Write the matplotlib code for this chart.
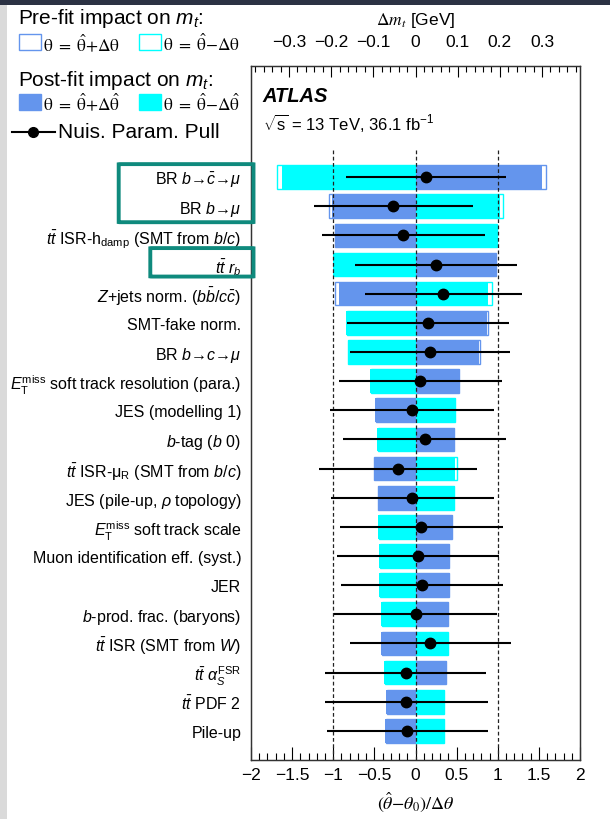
import matplotlib
matplotlib.use("Agg")
import matplotlib.pyplot as plt
from matplotlib.patches import Rectangle, FancyBboxPatch
from matplotlib.lines import Line2D
from matplotlib.ticker import MultipleLocator, FuncFormatter
from matplotlib.transforms import blended_transform_factory

plt.rcParams['font.family'] = ['Liberation Sans', 'DejaVu Sans']
plt.rcParams['mathtext.fontset'] = 'custom'
plt.rcParams['mathtext.rm'] = 'Liberation Sans'
plt.rcParams['mathtext.it'] = 'Liberation Sans:italic'
plt.rcParams['mathtext.bf'] = 'Liberation Sans:bold'
plt.rcParams['mathtext.sf'] = 'Liberation Sans'

# nuisance parameters, ranked by post-fit impact (top to bottom)
names = [
    r'BR $b$→$\bar{c}$→$\mu$',
    r'BR $b$→$\mu$',
    r'$t\bar{t}$ ISR-h$_{\mathrm{damp}}$ (SMT from $b/c$)',
    r'$t\bar{t}$ $r_{b}$',
    r'$Z$+jets norm. ($b\bar{b}/c\bar{c}$)',
    r'SMT-fake norm.',
    r'BR $b$→$c$→$\mu$',
    r'$E_{\mathrm{T}}^{\mathrm{miss}}$ soft track resolution (para.)',
    r'JES (modelling 1)',
    r'$b$-tag ($b$ 0)',
    r'$t\bar{t}$ ISR-$\mathrm{\mu}_{\mathrm{R}}$ (SMT from $b/c$)',
    r'JES (pile-up, $\rho$ topology)',
    r'$E_{\mathrm{T}}^{\mathrm{miss}}$ soft track scale',
    r'Muon identification eff. (syst.)',
    r'JER',
    r'$b$-prod. frac. (baryons)',
    r'$t\bar{t}$ ISR (SMT from $W$)',
    r'$t\bar{t}$ $\alpha_{S}^{\mathrm{FSR}}$',
    r'$t\bar{t}$ PDF 2',
    r'Pile-up',
]

# impact on m_t in GeV
post_up = [0.299, -0.199, -0.192, 0.191, -0.181, 0.170, 0.150, 0.106, -0.095, 0.094,
           -0.095, -0.090, 0.088, 0.082, 0.081, 0.080, -0.081, 0.075, -0.070, -0.073]
post_down = [-0.317, 0.201, 0.196, -0.195, 0.173, -0.164, -0.159, -0.108, 0.096, -0.092,
             0.093, 0.093, -0.089, -0.086, -0.087, -0.081, 0.078, -0.075, 0.070, 0.070]
pre_up = [0.310, -0.204, -0.190, 0.190, -0.191, 0.171, 0.153, 0.104, -0.093, 0.092,
          -0.099, -0.088, 0.086, 0.080, 0.079, 0.078, -0.079, 0.073, -0.068, -0.071]
pre_down = [-0.328, 0.208, 0.194, -0.193, 0.182, -0.162, -0.161, -0.106, 0.094, -0.090,
            0.098, 0.091, -0.087, -0.084, -0.085, -0.079, 0.076, -0.073, 0.068, 0.068]

# pulls (theta_hat - theta_0)/dtheta and their post-fit errors
pull = [0.13, -0.27, -0.15, 0.25, 0.34, 0.15, 0.18, 0.06, -0.04, 0.11,
        -0.21, -0.04, 0.07, 0.03, 0.08, 0.00, 0.18, -0.12, -0.11, -0.10]
pull_err = [0.97, 0.97, 0.99, 0.985, 0.955, 0.985, 0.975, 0.99, 0.995, 0.99,
            0.96, 0.99, 0.99, 0.99, 0.98, 0.995, 0.98, 0.975, 0.99, 0.98]

BLUE = '#6495ED'
CYAN = '#00FFFF'
TEAL = '#0f8a7d'

n = len(names)
ypos = [n - 1 - i for i in range(n)]

fig = plt.figure(figsize=(6.1, 8.2), dpi=100)
W, H = 610.0, 820.0

ax = fig.add_axes([251 / W, 1 - 760.7 / H, 329 / W, (760.7 - 66.5) / H])
ax_top = ax.twiny()
ax.set_zorder(ax_top.get_zorder() + 1)
ax.patch.set_visible(False)

ax.set_ylim(-0.99, n - 1 + 3.83)
ax.set_xlim(-2, 2)
ax_top.set_xlim(-0.39, 0.39)

bar_h = 0.81
# pre-fit impact: open boxes
ax_top.barh(ypos, pre_up, height=bar_h, left=0, facecolor='white', edgecolor=BLUE, linewidth=1.0)
ax_top.barh(ypos, pre_down, height=bar_h, left=0, facecolor='white', edgecolor=CYAN, linewidth=1.0)
# post-fit impact: filled boxes
ax_top.barh(ypos, post_up, height=bar_h, left=0, color=BLUE, linewidth=0)
ax_top.barh(ypos, post_down, height=bar_h, left=0, color=CYAN, linewidth=0)

ymin = ax.get_ylim()[0]
ax.vlines([-1, 0, 1], ymin, n, colors='#222222', linestyles=(0, (3, 2)), linewidth=0.9, zorder=2)
ax.errorbar(pull, ypos, xerr=pull_err, fmt='o', color='black', ms=7.5,
            elinewidth=1.5, capsize=0, zorder=3)

ax.set_yticks(ypos)
ax.set_yticklabels(names, fontsize=11.5)
ax.tick_params(axis='y', length=0, pad=7)

fmt = FuncFormatter(lambda v, p: f'{v:g}'.replace('-', '\u2212'))
ax.xaxis.set_major_locator(MultipleLocator(0.5))
ax.xaxis.set_minor_locator(MultipleLocator(0.1))
ax.xaxis.set_major_formatter(fmt)
ax.tick_params(axis='x', which='major', direction='in', length=9.5, width=0.8, labelsize=12.5, pad=5)
ax.tick_params(axis='x', which='minor', direction='in', length=5, width=0.8)
ax.set_xlabel(r'$(\hat{\theta}\mathrm{-}\theta_{0})/\Delta\theta$', fontsize=13,
              math_fontfamily='stix', labelpad=6)

ax_top.xaxis.set_major_locator(MultipleLocator(0.1))
ax_top.xaxis.set_minor_locator(MultipleLocator(0.02))
ax_top.xaxis.set_major_formatter(fmt)
ax_top.tick_params(axis='x', which='major', direction='in', length=8, width=0.8, labelsize=12.5, pad=12)
ax_top.tick_params(axis='x', which='minor', direction='in', length=4.5, width=0.8)
ax_top.set_xlabel(r'$\Delta m_{t}$ [GeV]', fontsize=12.5, math_fontfamily='stix', labelpad=7)

for a in (ax, ax_top):
    for s in a.spines.values():
        s.set_linewidth(0.9)
        s.set_color('#333333')

ax.text(0.035, 1 - (97 - 66.5) / 694.2, 'ATLAS', transform=ax.transAxes, fontsize=14.5,
        fontweight='bold', style='italic', va='center', ha='left')
ax.text(0.035, 1 - (123 - 66.5) / 694.2, r'$\sqrt{\mathrm{s}}$ = 13 TeV, 36.1 fb$^{-1}$',
        transform=ax.transAxes, fontsize=12, va='center', ha='left')


def fx(px):
    return px / W


def fy(py):
    return 1 - py / H


# legend block on the left
lfs = 15
fig.text(fx(18), fy(19), r'Pre-fit impact on $m_{t}$:', fontsize=lfs, va='center', ha='left')
fig.text(fx(18), fy(80), r'Post-fit impact on $m_{t}$:', fontsize=lfs, va='center', ha='left')
for x0, ec, lab in [(19.3, BLUE, r'$\mathrm{\theta\ =\ \hat{\theta}{+}\Delta\theta}$'),
                    (139.3, CYAN, r'$\mathrm{\theta\ =\ \hat{\theta}{-}\Delta\theta}$')]:
    fig.add_artist(Rectangle((fx(x0), fy(50.7)), 21.4 / W, 15.7 / H, transform=fig.transFigure,
                             facecolor='white', edgecolor=ec, linewidth=1.0))
    fig.text(fx(x0 + 24), fy(43.5), lab, fontsize=12.5, va='center', ha='left', math_fontfamily='stix')
for x0, fc, lab in [(19.3, BLUE, r'$\mathrm{\theta\ =\ \hat{\theta}{+}\Delta\hat{\theta}}$'),
                    (139.3, CYAN, r'$\mathrm{\theta\ =\ \hat{\theta}{-}\Delta\hat{\theta}}$')]:
    fig.add_artist(Rectangle((fx(x0), fy(110.5)), 21.4 / W, 15.7 / H, transform=fig.transFigure,
                             facecolor=fc, edgecolor=fc, linewidth=1.0))
    fig.text(fx(x0 + 24), fy(103), lab, fontsize=12.5, va='center', ha='left', math_fontfamily='stix')
fig.add_artist(Line2D([fx(11.7), fx(54.5)], [fy(133), fy(133)], transform=fig.transFigure,
                      color='black', linewidth=1.5))
fig.add_artist(Line2D([fx(33)], [fy(133)], transform=fig.transFigure, marker='o',
                      color='black', ms=7))
fig.text(fx(58.4), fy(132), 'Nuis. Param. Pull', fontsize=lfs, va='center', ha='left')

# highlight boxes around selected parameters
trans = blended_transform_factory(fig.transFigure, ax.transData)
for x0, y_lo, y_hi in [(118.7, 17.453, 19.446), (150.3, 15.588, 16.565)]:
    box = FancyBboxPatch((fx(x0), y_lo), fx(253.5) - fx(x0), y_hi - y_lo,
                         boxstyle='round,pad=0,rounding_size=0.004', transform=trans,
                         facecolor='none', edgecolor=TEAL, linewidth=2.8, clip_on=False, zorder=10)
    fig.add_artist(box)

# window frame around the page
fig.add_artist(Rectangle((0, fy(6)), 1, 6 / H, transform=fig.transFigure,
                         facecolor='#2c3244', edgecolor='none'))
fig.add_artist(Rectangle((0, 0), 7 / W, fy(6), transform=fig.transFigure,
                         facecolor='#dadada', edgecolor='none'))

fig.savefig('out.png', dpi=100)
